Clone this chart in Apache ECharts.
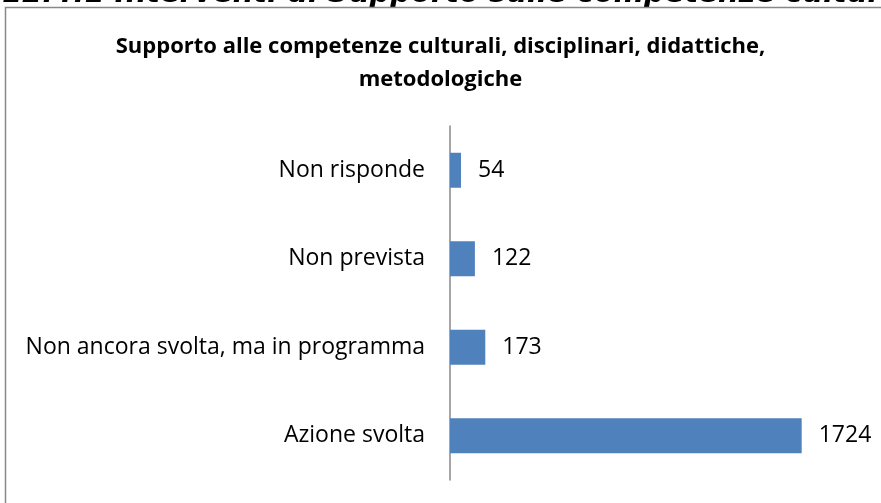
<!DOCTYPE html>
<html>
<head>
<meta charset="utf-8">
<script src="https://cdn.jsdelivr.net/npm/echarts@6/dist/echarts.min.js"></script>
<style>
html,body{margin:0;padding:0;background:#fff;}
#main{width:881px;height:503px;}
</style>
</head>
<body>
<div id="main"></div>
<script>
var categorie = ['Azione svolta', 'Non ancora svolta, ma in programma', 'Non prevista', 'Non risponde'];
var valori = [1724, 173, 122, 54];

var main = document.getElementById("main");
var mychart = echarts.init(main);
var option = {
    animation: false,
    title: {
        text: 'Supporto alle competenze culturali, disciplinari, didattiche,\nmetodologiche',
        left: 'center', top: 25,
        textStyle: {fontFamily: 'Open Sans', fontWeight: 'bold', fontSize: 22, color: '#000', lineHeight: 33}
    },
    graphic: [
        {type: 'rect', shape: {x: 5.5, y: 7.5, width: 900, height: 520}, style: {fill: 'none', stroke: '#888', lineWidth: 1.5}},
        {type: 'text', left: 2, top: -20, style: {text: '12.4.1 Interventi di Supporto sulle competenze culturali', font: 'italic bold 29px "DejaVu Sans"', fill: '#000'}, z: -1}
    ],
    grid: {left: 450, right: 23, top: 126, bottom: 23},
    xAxis: {type: 'value', min: 0, max: 2000, show: false},
    yAxis: {
        type: 'category', data: categorie,
        axisLine: {lineStyle: {color: '#888', width: 1.5}},
        axisTick: {show: false},
        axisLabel: {fontFamily: 'Open Sans', fontSize: 23, color: '#000', margin: 25}
    },
    series: [{
        type: 'bar', data: valori, barWidth: 35,
        itemStyle: {color: '#4f81bd'},
        label: {show: true, position: 'right', distance: 17, fontFamily: 'Open Sans', fontSize: 23, color: '#000'}
    }]
};
mychart.setOption(option);
</script>
</body>
</html>
